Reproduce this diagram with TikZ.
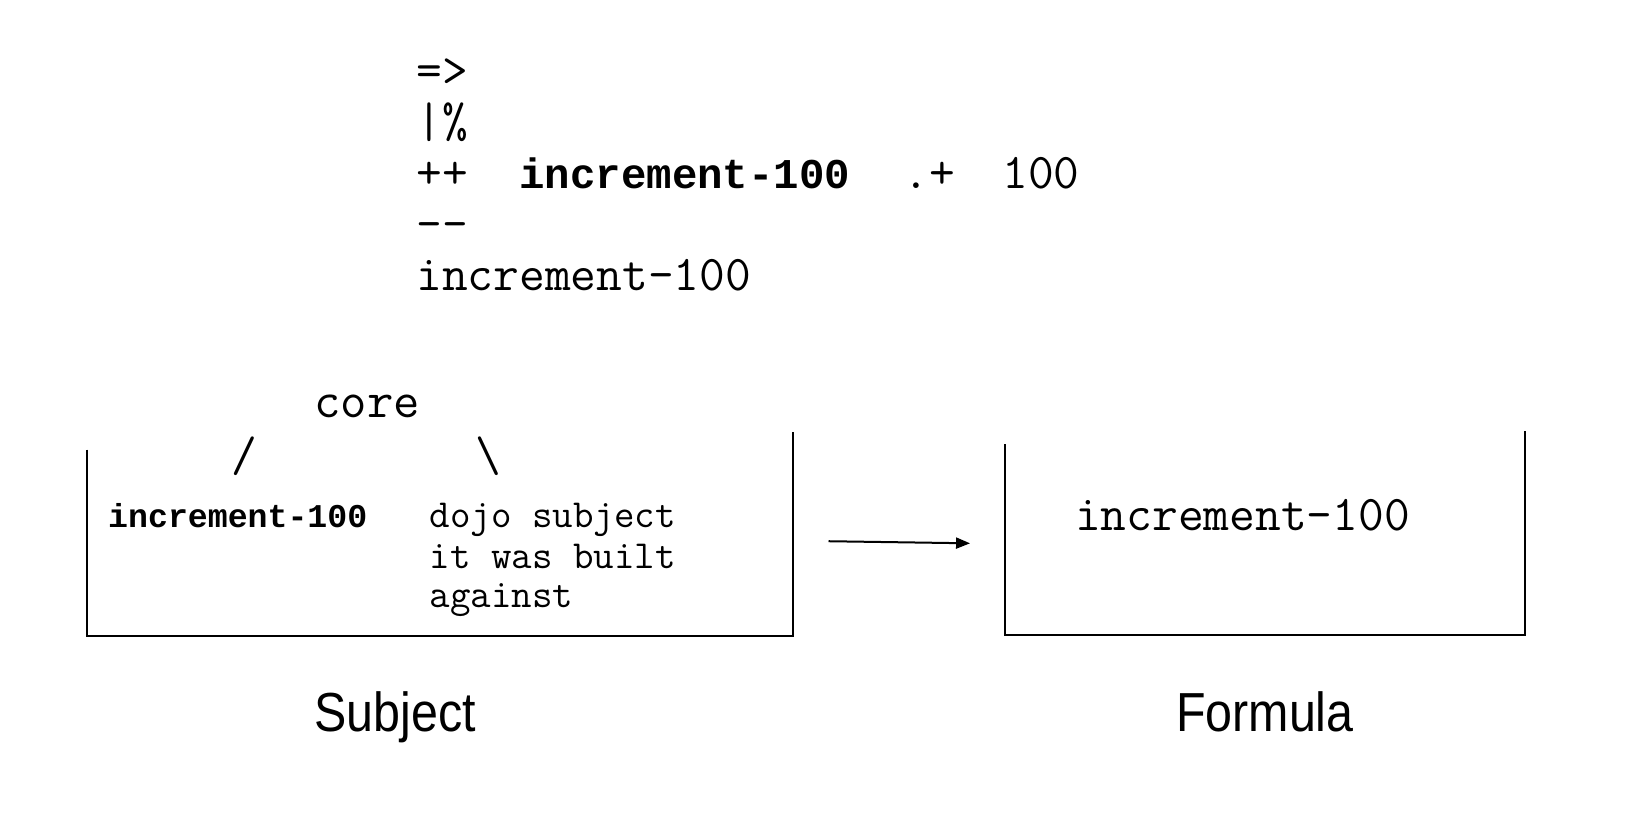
\documentclass[tikz,border=0pt]{standalone}
\usepackage{fontspec}
\usetikzlibrary{arrows.meta}
\newfontfamily\cmono{Liberation Mono}
\newfontfamily\lab{Liberation Sans}[FakeStretch=0.88]
\begin{document}
\begin{tikzpicture}[x=0.52041pt,y=-0.52041pt,
  tx/.style={inner sep=0pt,outer sep=0pt,anchor=base west},
  rtop/.style={tx,font=\ttfamily\fontsize{25}{30}\selectfont},
  corech/.style={tx,font=\ttfamily\fontsize{25.6}{30}\selectfont},
  btop/.style={tx,font=\cmono\bfseries\fontsize{21.2}{25}\selectfont},
  slashch/.style={inner sep=0pt,outer sep=0pt,anchor=center,font=\ttfamily\fontsize{25}{30}\selectfont},
  bmid/.style={tx,font=\cmono\bfseries\fontsize{16.6}{20}\selectfont},
  rsmall/.style={tx,font=\ttfamily\fontsize{19.9}{22}\selectfont},
  lbl/.style={tx,font=\lab\fontsize{27.5}{32}\selectfont},
  boxline/.style={line width=1pt},
  conn/.style={line width=1pt,-{Triangle[length=7pt,width=5.5pt]}}]
\useasboundingbox (0,0) rectangle (1568,805.1);
% top block
\node[rtop] (l1) at (400,83) {=>};
\node[rtop] (l2) at (400,132) {|\%};
\node[rtop] (l3a) at (400,181) {++};
\node[btop] (l3b) at (499,181) {increment-100};
\node[rtop] (l3c) at (868,181) {.+};
\node[rtop] (l3d) at (963,181) {100};
\node[rtop] (l4) at (400,230) {-{}-};
\node[rtop] (l5) at (400,279) {increment-100};
% subject box
\node[corech] (core) at (302,401) {core};
\node[slashch] (sl) at (235,438) {/};
\node[slashch] (bs) at (469,438) {\textbackslash};
\draw[boxline] (84,432) |- (762,611) -- (762,415);
\node[bmid] (sinc) at (104,507) {increment-100};
\node[rsmall] (d1) at (413,507) {dojo subject};
\node[rsmall] (d2) at (413,546) {it was built};
\node[rsmall] (d3) at (413,584) {against};
% formula box
\draw[boxline] (966,427) |- (1465,610) -- (1465,414);
\node[rtop] (finc) at (1033,510) {increment-100};
% arrow
\coordinate (a1) at (796,520);
\coordinate (a2) at (932,522);
\draw[conn] (a1) -- (a2);
% labels
\node[lbl] (subj) at (302,703) {Subject};
\node[lbl] (form) at (1130,703) {Formula};
\end{tikzpicture}
\end{document}
